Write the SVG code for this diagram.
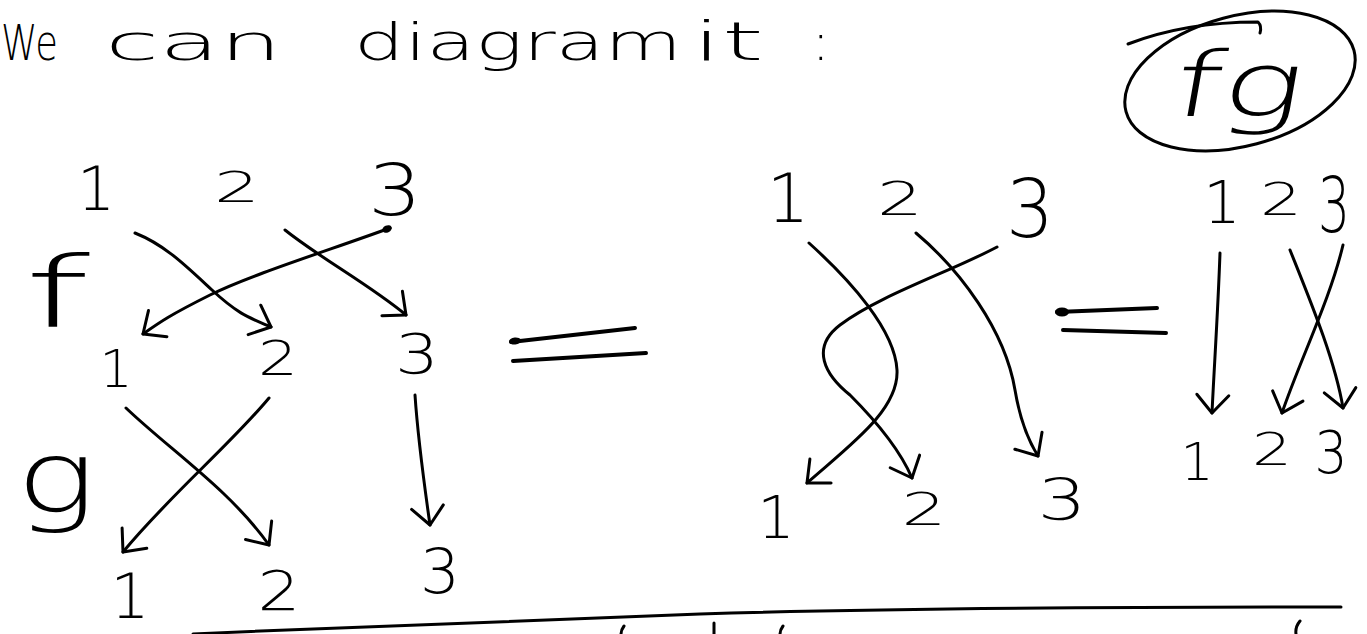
<svg xmlns="http://www.w3.org/2000/svg" width="1367" height="634" viewBox="0 0 1367 634">
<style>
text{font-family:"DejaVu Sans","Liberation Sans",sans-serif;font-weight:200;fill:#000}
.d{text-anchor:middle}
.ln{fill:none;stroke:#000;stroke-width:3;stroke-linecap:round;stroke-linejoin:round}
.arr{marker-end:url(#vhead)}
.eq{fill:none;stroke:#000;stroke-width:4;stroke-linecap:round}
</style>
<defs>
<marker id="vhead" markerUnits="userSpaceOnUse" markerWidth="50" markerHeight="50" viewBox="-25 -25 50 50" refX="0" refY="0" orient="auto" overflow="visible">
<path d="M-18,-16 L0,0 L-18,16" fill="none" stroke="#000" stroke-width="3" stroke-linecap="round" stroke-linejoin="round"/>
</marker>
</defs>
<rect width="1367" height="634" fill="#fff"/>

<g id="title">
<text x="1" y="60" font-size="50" textLength="57" lengthAdjust="spacingAndGlyphs">We</text>
<text x="105" y="60" font-size="50" textLength="177" lengthAdjust="spacingAndGlyphs">can</text>
<text x="354" y="60" font-size="52" textLength="328" lengthAdjust="spacingAndGlyphs">diagram</text>
<text x="692" y="60" font-size="54" textLength="72" lengthAdjust="spacingAndGlyphs">it</text>
<text x="812" y="60" font-size="52">:</text>
</g>

<g id="fg-node">
<ellipse cx="1240" cy="81" rx="118" ry="65" transform="rotate(-15 1240 81)" class="ln"/>
<path d="M1128,44 Q1185,22 1258,22 Q1262,26 1260,33" class="ln" stroke-width="2"/>
<text x="1170" y="116" font-size="90" textLength="130" lengthAdjust="spacingAndGlyphs" transform="skewX(-10) translate(20 0)">fg</text>
</g>

<g id="f-label"><text x="24" y="327" font-size="98" textLength="66" lengthAdjust="spacingAndGlyphs">f</text></g>
<g id="g-label"><text x="16" y="512" font-size="100" textLength="80" lengthAdjust="spacingAndGlyphs">g</text></g>

<g id="left-top-row">
<text class="d" x="96" y="210" font-size="60">1</text>
<text class="d" x="237" y="202" font-size="42" textLength="46" lengthAdjust="spacingAndGlyphs">2</text>
<text class="d" x="395" y="215" font-size="72" textLength="54" lengthAdjust="spacingAndGlyphs">3</text>
</g>
<g id="left-mid-row">
<text class="d" x="116" y="387" font-size="52">1</text>
<text class="d" x="278" y="375" font-size="48" textLength="40" lengthAdjust="spacingAndGlyphs">2</text>
<text class="d" x="417" y="373" font-size="56" textLength="44" lengthAdjust="spacingAndGlyphs">3</text>
</g>
<g id="left-bottom-row">
<text class="d" x="130" y="618" font-size="62">1</text>
<text class="d" x="279" y="610" font-size="55" textLength="43" lengthAdjust="spacingAndGlyphs">2</text>
<text class="d" x="440" y="593" font-size="63" textLength="40" lengthAdjust="spacingAndGlyphs">3</text>
</g>
<g id="mid-top-row">
<text class="d" x="788" y="222" font-size="67">1</text>
<text class="d" x="900" y="215" font-size="47" textLength="46" lengthAdjust="spacingAndGlyphs">2</text>
<text class="d" x="1030" y="237" font-size="81" textLength="48" lengthAdjust="spacingAndGlyphs">3</text>
</g>
<g id="mid-bottom-row">
<text class="d" x="776" y="538" font-size="59">1</text>
<text class="d" x="924" y="525" font-size="45" textLength="45" lengthAdjust="spacingAndGlyphs">2</text>
<text class="d" x="1062" y="520" font-size="57" textLength="49" lengthAdjust="spacingAndGlyphs">3</text>
</g>
<g id="right-top-row">
<text class="d" x="1222" y="223" font-size="59">1</text>
<text class="d" x="1281" y="215" font-size="45" textLength="42" lengthAdjust="spacingAndGlyphs">2</text>
<text class="d" x="1334" y="232" font-size="77" textLength="32" lengthAdjust="spacingAndGlyphs">3</text>
</g>
<g id="right-bottom-row">
<text class="d" x="1197" y="480" font-size="52">1</text>
<text class="d" x="1272" y="465" font-size="44" textLength="40" lengthAdjust="spacingAndGlyphs">2</text>
<text class="d" x="1331" y="473" font-size="59" textLength="33" lengthAdjust="spacingAndGlyphs">3</text>
</g>

<g id="equals-1">
<path class="eq" d="M511,342 L635,328"/>
<ellipse cx="515" cy="341" rx="6" ry="3.5" transform="rotate(-6 515 341)"/>
<path class="eq" d="M513,361 L646,353" stroke-width="3"/>
</g>
<g id="equals-2">
<path class="eq" d="M1057,312 L1157,308"/>
<ellipse cx="1062" cy="312" rx="7" ry="4.5"/>
<path class="eq" d="M1063,330 L1166,333" stroke-width="3"/>
</g>

<g id="connectors">
<path class="ln arr" d="M135,233 C165,245 185,265 212,290 S250,318 271,327"/>
<path class="ln arr" d="M285,230 C320,258 370,285 406,315"/>
<path class="ln arr" d="M390,228 C330,250 250,275 210,295 S160,322 143,334"/>
<ellipse cx="387" cy="229" rx="5" ry="3.5" transform="rotate(-25 387 229)"/>
<path class="ln arr" d="M126,408 C170,450 230,490 269,545"/>
<path class="ln arr" d="M269,398 C230,445 170,495 123,552"/>
<path class="ln arr" d="M415,395 C418,440 425,490 430,525"/>
<path class="ln arr" d="M809,243 C850,280 895,330 897,370 C899,410 850,445 807,483"/>
<path class="ln arr" d="M997,247 C950,272 880,295 840,325 C810,348 825,375 850,395 C875,420 900,450 912,478"/>
<path class="ln arr" d="M916,233 C960,270 1005,330 1015,390 C1020,420 1028,440 1038,456"/>
<path class="ln arr" d="M1220,253 C1218,310 1214,370 1212,413"/>
<path class="ln arr" d="M1290,250 C1310,300 1335,360 1343,408"/>
<path class="ln arr" d="M1343,245 C1330,300 1300,360 1282,413"/>
</g>

<g id="underline">
<path class="ln" d="M193,634 C350,627 500,621 700,614 C900,608 1100,607 1341,607"/>
<path class="ln" stroke-width="2" d="M624,626 Q621,630 621,634 M714,623 L714,634 M783,626 Q780,630 780,634 M1300,621 Q1295,627 1296,634"/>
</g>
</svg>
